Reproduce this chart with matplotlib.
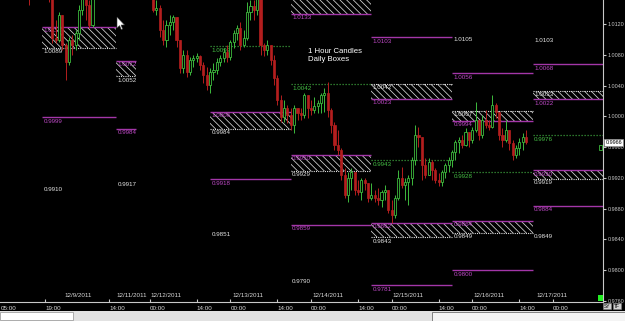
import matplotlib
matplotlib.use('Agg')
import matplotlib.pyplot as plt
from matplotlib.patches import Rectangle, Polygon
import numpy as np

# hourly candles (bar index 0..148), opens = previous close
first_open = 1.0165
closes = [
    1.0154, 1.0162, 1.0167, 1.0164, 1.0159, 1.0156, 1.0154, 1.0102, 1.0099, 1.0132,
    1.0093, 1.0071, 1.0099, 1.0093, 1.0108, 1.0138, 1.0158, 1.0145, 1.0119, 1.0158,
    1.0165, 1.0172, 1.0180, 1.0176, 1.0185, 1.0190, 1.0183, 1.0178, 1.0186, 1.0192,
    1.0188, 1.0181, 1.0175, 1.0170, 1.0166, 1.0162, 1.0158, 1.0138, 1.0141, 1.0112,
    1.0099, 1.0119, 1.0123, 1.0129, 1.0099, 1.0063, 1.0080, 1.0058, 1.0073, 1.0076,
    1.0078, 1.0067, 1.0054, 1.0041, 1.0058, 1.0060, 1.0071, 1.0076, 1.0084, 1.0077,
    1.0097, 1.0108, 1.0115, 1.0093, 1.0102, 1.0136, 1.0143, 1.0138, 1.0155, 1.0093,
    1.0086, 1.0093, 1.0073, 1.0050, 1.0021, 0.9999, 1.0011, 1.0002, 0.9989, 1.0011,
    1.0004, 1.0002, 1.0028, 1.0011, 1.0008, 1.0013, 1.0017, 1.0028, 1.0030, 1.0008,
    0.9989, 0.9963, 0.9956, 0.9924, 0.9898, 0.9920, 0.9928, 0.9904, 0.9902, 0.9917,
    0.9913, 0.9894, 0.9898, 0.9894, 0.9891, 0.9902, 0.9904, 0.9878, 0.9872, 0.9894,
    0.9920, 0.9911, 0.9915, 0.9920, 0.9943, 0.9976, 0.9973, 0.9937, 0.9924, 0.9941,
    0.9930, 0.9917, 0.9915, 0.9928, 0.9937, 0.9943, 0.9954, 0.9967, 0.9969, 0.9963,
    0.9980, 0.9969, 0.9982, 0.9995, 0.9976, 0.9995, 0.9989, 0.9986, 1.0015, 1.0006,
    0.9976, 0.9969, 0.9982, 0.9965, 0.9950, 0.9959, 0.9967, 0.9973, 0.9966]
highs = [
    1.0171, 1.0177, 1.0177, 1.0175, 1.0170, 1.0167, 1.0164, 1.0158, 1.0125, 1.0136,
    1.0119, 1.0095, 1.0103, 1.0106, 1.0112, 1.0145, 1.0171, 1.0164, 1.0151, 1.0164,
    1.0173, 1.0180, 1.0188, 1.0184, 1.0193, 1.0198, 1.0191, 1.0186, 1.0194, 1.0200,
    1.0196, 1.0189, 1.0183, 1.0178, 1.0174, 1.0170, 1.0166, 1.0164, 1.0151, 1.0145,
    1.0125, 1.0125, 1.0132, 1.0132, 1.0129, 1.0099, 1.0086, 1.0086, 1.0077, 1.0080,
    1.0082, 1.0080, 1.0071, 1.0064, 1.0063, 1.0069, 1.0076, 1.0080, 1.0089, 1.0093,
    1.0099, 1.0112, 1.0119, 1.0123, 1.0112, 1.0149, 1.0151, 1.0151, 1.0164, 1.0158,
    1.0095, 1.0099, 1.0093, 1.0080, 1.0054, 1.0028, 1.0021, 1.0015, 1.0011, 1.0015,
    1.0011, 1.0011, 1.0030, 1.0024, 1.0021, 1.0025, 1.0021, 1.0030, 1.0037, 1.0045,
    1.0011, 0.9993, 0.9982, 0.9959, 0.9933, 0.9928, 0.9933, 0.9924, 0.9917, 0.9920,
    0.9920, 0.9911, 0.9913, 0.9904, 0.9907, 0.9904, 0.9911, 0.9904, 0.9891, 0.9898,
    0.9930, 0.9934, 0.9920, 0.9924, 0.9947, 0.9989, 0.9986, 0.9956, 0.9946, 0.9946,
    0.9943, 0.9933, 0.9926, 0.9930, 0.9939, 0.9947, 0.9956, 0.9969, 0.9973, 0.9976,
    0.9985, 0.9980, 0.9986, 1.0019, 0.9989, 1.0002, 1.0008, 0.9995, 1.0028, 1.0017,
    1.0006, 0.9985, 0.9995, 0.9982, 0.9969, 0.9963, 0.9972, 0.9978, 0.9982]
lows = [
    1.0145, 1.0154, 1.0158, 1.0156, 1.0152, 1.0152, 1.0149, 1.0095, 1.0095, 1.0097,
    1.0086, 1.0047, 1.0067, 1.0080, 1.0086, 1.0099, 1.0132, 1.0125, 1.0115, 1.0116,
    1.0156, 1.0160, 1.0168, 1.0170, 1.0172, 1.0180, 1.0176, 1.0172, 1.0174, 1.0182,
    1.0180, 1.0175, 1.0168, 1.0164, 1.0160, 1.0156, 1.0153, 1.0136, 1.0132, 1.0103,
    1.0093, 1.0090, 1.0106, 1.0112, 1.0090, 1.0056, 1.0056, 1.0051, 1.0054, 1.0064,
    1.0071, 1.0060, 1.0043, 1.0034, 1.0030, 1.0047, 1.0055, 1.0065, 1.0071, 1.0071,
    1.0073, 1.0089, 1.0099, 1.0086, 1.0090, 1.0099, 1.0125, 1.0125, 1.0132, 1.0080,
    1.0078, 1.0080, 1.0067, 1.0041, 1.0015, 0.9993, 0.9993, 0.9991, 0.9982, 0.9978,
    0.9995, 0.9995, 0.9998, 0.9998, 1.0002, 1.0004, 1.0004, 1.0004, 1.0006, 0.9999,
    0.9978, 0.9956, 0.9950, 0.9917, 0.9894, 0.9889, 0.9904, 0.9898, 0.9898, 0.9891,
    0.9904, 0.9889, 0.9891, 0.9889, 0.9885, 0.9882, 0.9891, 0.9874, 0.9861, 0.9868,
    0.9891, 0.9907, 0.9891, 0.9885, 0.9911, 0.9937, 0.9960, 0.9917, 0.9920, 0.9924,
    0.9917, 0.9913, 0.9909, 0.9909, 0.9920, 0.9928, 0.9934, 0.9943, 0.9952, 0.9959,
    0.9961, 0.9960, 0.9965, 0.9980, 0.9969, 0.9972, 0.9985, 0.9982, 0.9985, 0.9998,
    0.9969, 0.9960, 0.9967, 0.9956, 0.9943, 0.9946, 0.9950, 0.9956, 0.9964]
last_price = 0.9966

# daily box columns (bar index spans)
col_start = [4, 26, 54, 78, 102, 126, 150]
col_end = [26, 32, 78, 102, 126, 150, 174]

# hatched boxes: column, white level, magenta level
box_col = [0, 1, 2, 3, 3, 4, 4, 5, 5, 6, 6]
box_white = [1.0089, 1.0052, 0.9984, 1.0155, 0.9929, 1.0042, 0.9843, 1.0007, 0.9849, 1.0033, 0.9919]
box_mag = [1.0116, 1.0072, 1.0006, 1.0133, 0.9950, 1.0023, 0.9862, 0.9994, 0.9864, 1.0022, 0.9930]

# solid magenta levels
line_col = [0, 1, 2, 3, 4, 4, 5, 5, 6, 6]
line_val = [0.9999, 0.9984, 0.9918, 0.9859, 1.0103, 0.9781, 1.0056, 0.9800, 1.0068, 0.9884]

# green dotted levels
green_col = [2, 3, 4, 5, 6]
green_val = [1.0092, 1.0042, 0.9943, 0.9928, 0.9976]

# white labels without line
white_col = [0, 1, 2, 3, 5, 6, 6]
white_val = [0.9910, 0.9917, 0.9851, 0.9790, 1.0105, 1.0103, 0.9849]

price_ticks = [1.0120, 1.0080, 1.0040, 1.0000, 0.9960, 0.9920, 0.9880, 0.9840, 0.9800, 0.9760]
time_idx = [-8.3, 5, 24, 36, 50, 60, 74, 84, 98, 108, 122, 132, 146, 156]
time_lbl = ['05:00', '19:00', '14:00', '00:00', '14:00', '00:00', '14:00', '00:00',
            '14:00', '00:00', '14:00', '00:00', '14:00', '00:00']
date_idx = [10.5, 26, 36.3, 60.5, 84.5, 108.3, 132.5, 151]
date_lbl = ['12/9/2011', '12/11/2011', '12/12/2011', '12/13/2011', '12/14/2011',
            '12/15/2011', '12/16/2011', '12/17/2011']

GREEN = '#3dbb3d'
RED = '#b41e1e'
MAG = '#a336a8'
MAGT = '#c04ac8'
WHT = '#e6e6e6'
GRNT = '#45c045'
FS = 4.5

plt.rcParams['font.family'] = ['Liberation Sans', 'DejaVu Sans']
plt.rcParams['hatch.linewidth'] = 0.55

fig = plt.figure(figsize=(6.25, 3.21), dpi=100, facecolor='black')
ax = fig.add_axes([0, 19 / 321, 603 / 625, 302 / 321])
ax.set_facecolor('black')
ax.set_xlim(-8.54, 170.92)
ax.set_ylim(0.97587, 1.01512)

# boxes
for c, w, m in zip(box_col, box_white, box_mag):
    x0, x1 = col_start[c], col_end[c]
    lo, hi = min(w, m), max(w, m)
    ax.add_patch(Rectangle((x0, lo), x1 - x0, hi - lo, facecolor='none',
                           edgecolor='#d8d8d8', hatch='\\\\\\\\\\', lw=0, zorder=1))
    ax.hlines(w, x0, x1, colors='#e0e0e0', lw=0.8, linestyles=(0, (1, 1)), zorder=2)
    ax.hlines(m, x0, x1, colors=MAG, lw=1.0, zorder=2)
    ax.annotate('%.4f' % w, (x0, w), xytext=(1, -1), textcoords='offset points',
                va='top', ha='left', fontsize=FS, color=WHT, zorder=3)
    ax.annotate('%.4f' % m, (x0, m), xytext=(1, -1), textcoords='offset points',
                va='top', ha='left', fontsize=FS, color=MAGT, zorder=3)

for c, v in zip(line_col, line_val):
    ax.hlines(v, col_start[c], col_end[c], colors=MAG, lw=1.0, zorder=2)
    ax.annotate('%.4f' % v, (col_start[c], v), xytext=(1, -1.2), textcoords='offset points',
                va='top', ha='left', fontsize=FS, color=MAGT, zorder=3)

for c, v in zip(green_col, green_val):
    ax.hlines(v, col_start[c], col_end[c], colors='#3a9a3a', lw=0.9,
              linestyles=(0, (1, 1.4)), zorder=2)
    ax.annotate('%.4f' % v, (col_start[c], v), xytext=(1, -1.5), textcoords='offset points',
                va='top', ha='left', fontsize=FS, color=GRNT, zorder=3)

for c, v in zip(white_col, white_val):
    ax.annotate('%.4f' % v, (col_start[c], v), xytext=(1, -1), textcoords='offset points',
                va='top', ha='left', fontsize=FS, color=WHT, zorder=3)

# candles
closes = np.array(closes)
opens = np.concatenate([[first_open], closes[:-1]])
idx = np.arange(len(closes))
hi = np.maximum(np.array(highs), np.maximum(opens, closes))
lo = np.minimum(np.array(lows), np.minimum(opens, closes))
up = closes >= opens
cols = np.where(up, GREEN, RED)
ax.vlines(idx, lo, hi, colors=cols, lw=0.7, zorder=4)
body = np.where(np.abs(closes - opens) < 0.00008, 0.00008, closes - opens)
ax.bar(idx[up], body[up], bottom=opens[up], width=0.62, facecolor='black',
       edgecolor=GREEN, lw=0.6, zorder=5)
ax.bar(idx[~up], body[~up], bottom=opens[~up], width=0.62, facecolor=RED,
       edgecolor=RED, lw=0.5, zorder=5)

ax.text(0.511, 0.84, '1 Hour Candles\nDaily Boxes', transform=ax.transAxes,
        va='top', ha='left', fontsize=5.6, color='white', linespacing=1.15)

# axes styling
for s in ['top', 'left']:
    ax.spines[s].set_visible(False)
for s in ['right', 'bottom']:
    ax.spines[s].set_color('#c8c8c8')
    ax.spines[s].set_linewidth(0.8)
ax.yaxis.tick_right()
ax.set_yticks(price_ticks, ['%.4f' % v for v in price_ticks])
ax.tick_params(axis='y', colors='#c8c8c8', labelsize=3.9, length=2, pad=1.2)
ax.set_xticks([t for t in time_idx if t > -8.3])
ax.tick_params(axis='x', colors='#c8c8c8', labelbottom=False, length=2, direction='in')

xtr = ax.get_xaxis_transform()
for t, s in zip(time_idx, time_lbl):
    ax.text(t, -0.012, s, transform=xtr, va='top', ha='left', fontsize=FS, color='#d8d8d8')
for t, s in zip(date_idx, date_lbl):
    ax.text(t, 0.012, s, transform=xtr, va='bottom', ha='left', fontsize=FS, color='#d8d8d8')

# current price box
ax.annotate('%.4f' % last_price, (1.0, last_price), xycoords=ax.get_yaxis_transform(),
            xytext=(1.8, 0), textcoords='offset points', va='center', ha='left',
            fontsize=3.9, color='black', annotation_clip=False,
            bbox=dict(boxstyle='square,pad=0.2', fc='white', ec='#909090', lw=0.5))

# window bits: scrollbar strip, status markers, mouse pointer
fig.patches.append(Rectangle((0, 0), 1, 10 / 321, transform=fig.transFigure,
                             facecolor='#e2e2e2', edgecolor='none'))
fig.patches.append(Rectangle((0, 1 / 321), 73 / 625, 8 / 321, transform=fig.transFigure,
                             facecolor='white', edgecolor='#a0a0a0', lw=0.6))
fig.patches.append(Rectangle((432 / 625, 0), 193 / 625, 9 / 321, transform=fig.transFigure,
                             facecolor='#f4f4f4', edgecolor='#707070', lw=0.6))
fig.patches.append(Rectangle((598 / 625, 20 / 321), 5 / 625, 6 / 321, transform=fig.transFigure,
                             facecolor='#22ee22', edgecolor='none'))
fig.patches.append(Rectangle((598.5 / 625, 171.5 / 321), 3.5 / 625, 5 / 321,
                             transform=fig.transFigure, facecolor='black',
                             edgecolor='#3dbb3d', lw=0.6))
fig.text(604 / 625, 15 / 321, 'SY', fontsize=3.5, color='black', va='center',
         bbox=dict(boxstyle='square,pad=0.15', fc='#d0d0d0', ec='#808080', lw=0.4))
fig.text(614 / 625, 15 / 321, 'TF', fontsize=3.5, color='black', va='center',
         bbox=dict(boxstyle='square,pad=0.15', fc='#d0d0d0', ec='#808080', lw=0.4))
cursor = [(117, 17), (117, 28), (119.6, 25.6), (121.3, 29.5), (122.6, 29),
          (121, 25), (124.5, 25)]
fig.patches.append(Polygon([(px / 625, (321 - py) / 321) for px, py in cursor],
                           closed=True, transform=fig.transFigure,
                           facecolor='white', edgecolor='#404040', lw=0.4))

fig.savefig('out.png', dpi=100, facecolor='black')
